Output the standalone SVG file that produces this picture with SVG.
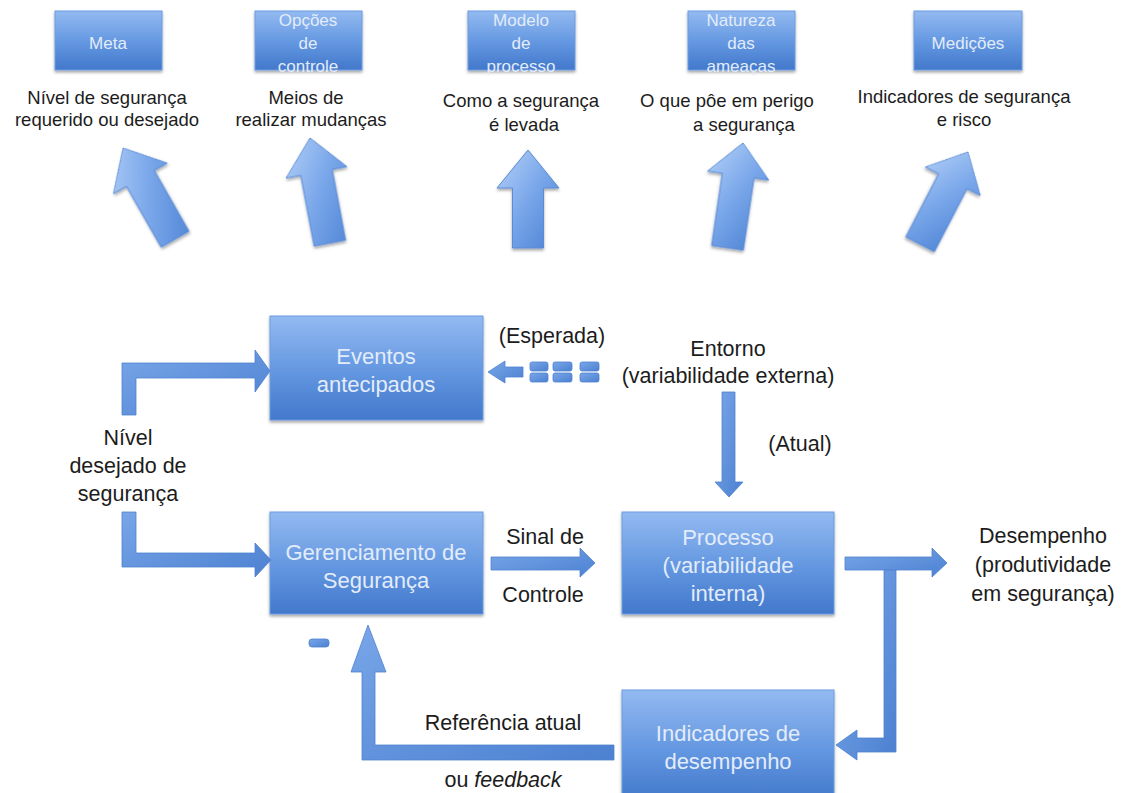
<svg xmlns="http://www.w3.org/2000/svg" width="1126" height="793" viewBox="0 0 1126 793">
<defs>
<linearGradient id="boxG" x1="0" y1="0" x2="0" y2="1">
<stop offset="0" stop-color="#93baf1"/>
<stop offset="0.55" stop-color="#6296e0"/>
<stop offset="1" stop-color="#4278cb"/>
</linearGradient>
<linearGradient id="bigA" x1="0" y1="0" x2="1" y2="1">
<stop offset="0" stop-color="#b6d2f8"/>
<stop offset="0.5" stop-color="#7aa7ea"/>
<stop offset="1" stop-color="#4a80d2"/>
</linearGradient>
<linearGradient id="conG" x1="0" y1="0" x2="1" y2="1">
<stop offset="0" stop-color="#79a6e8"/>
<stop offset="1" stop-color="#4c81d1"/>
</linearGradient>
<filter id="sh" x="-10%" y="-10%" width="120%" height="130%">
<feDropShadow dx="0" dy="2" stdDeviation="1.8" flood-color="#000" flood-opacity="0.35"/>
</filter>
<style>
.box{fill:url(#boxG);stroke:#6d9be0;stroke-width:1;filter:url(#sh)}
.bt{font-family:"Liberation Sans",Arial,sans-serif;font-size:17px;fill:#e3ecfa;text-anchor:middle}
.mt{font-family:"Liberation Sans",Arial,sans-serif;font-size:22px;fill:#e3ecfa;text-anchor:middle}
.dt{font-family:"Liberation Sans",Arial,sans-serif;font-size:18.5px;fill:#1c1c1c;text-anchor:middle}
.lt{font-family:"Liberation Sans",Arial,sans-serif;font-size:21.5px;fill:#1c1c1c;text-anchor:middle}
.big{fill:url(#bigA);stroke:#5a8bd6;stroke-width:1;filter:url(#sh)}
.con{fill:url(#conG);stroke:#4f82d0;stroke-width:0.8}
</style>
</defs>
<rect width="1126" height="793" fill="#fff"/>

<!-- top row -->
<g id="meta">
<rect class="box" x="55" y="11" width="107" height="59"/>
<text class="bt" x="108" y="49">Meta</text>
<text class="dt" x="107" y="104">Nível de segurança</text>
<text class="dt" x="107" y="126">requerido ou desejado</text>
</g>
<g id="opcoes">
<rect class="box" x="255" y="11" width="107" height="59"/>
<text class="bt" x="308" y="26">Opções</text>
<text class="bt" x="308" y="49">de</text>
<text class="bt" x="308" y="72">controle</text>
<text class="dt" x="306" y="104">Meios de</text>
<text class="dt" x="311" y="126">realizar mudanças</text>
</g>
<g id="modelo">
<rect class="box" x="468" y="11" width="107" height="59"/>
<text class="bt" x="521" y="26">Modelo</text>
<text class="bt" x="521" y="49">de</text>
<text class="bt" x="521" y="72">processo</text>
<text class="dt" x="521" y="107">Como a segurança</text>
<text class="dt" x="524" y="131">é levada</text>
</g>
<g id="natureza">
<rect class="box" x="688" y="11" width="107" height="59"/>
<text class="bt" x="741" y="26">Natureza</text>
<text class="bt" x="741" y="49">das</text>
<text class="bt" x="741" y="72">ameaças</text>
<text class="dt" x="727" y="107">O que pôe em perigo</text>
<text class="dt" x="744" y="131">a segurança</text>
</g>
<g id="medicoes">
<rect class="box" x="914" y="11" width="108" height="59"/>
<text class="bt" x="968" y="49">Medições</text>
<text class="dt" x="964" y="103">Indicadores de segurança</text>
<text class="dt" x="964" y="126">e risco</text>
</g>

<!-- big arrows -->
<g id="big-arrows">
<path class="big" transform="translate(123,148) rotate(-29.7)" d="M0,0 L31,35 L16,35 L16,105 L-16,105 L-16,35 L-31,35 Z"/>
<path class="big" transform="translate(310,138) rotate(-10.7)" d="M0,0 L31,35 L16,35 L16,107 L-16,107 L-16,35 L-31,35 Z"/>
<path class="big" transform="translate(528,150)" d="M0,0 L31,38 L15.5,38 L15.5,98 L-15.5,98 L-15.5,38 L-31,38 Z"/>
<path class="big" transform="translate(743,143) rotate(8.4)" d="M0,0 L31,33 L16,33 L16,106 L-16,106 L-16,33 L-31,33 Z"/>
<path class="big" transform="translate(968,152) rotate(27.4)" d="M0,0 L31,33 L16,33 L16,104 L-16,104 L-16,33 L-31,33 Z"/>
</g>

<!-- main nodes -->
<g id="eventos">
<rect class="box" x="270" y="316" width="213" height="104"/>
<text class="mt" x="376" y="364">Eventos</text>
<text class="mt" x="376" y="392">antecipados</text>
</g>
<g id="gerenciamento">
<rect class="box" x="270" y="512" width="213" height="102"/>
<text class="mt" x="376" y="560">Gerenciamento de</text>
<text class="mt" x="376" y="588">Segurança</text>
</g>
<g id="processo">
<rect class="box" x="622" y="512" width="212" height="102"/>
<text class="mt" x="728" y="545">Processo</text>
<text class="mt" x="728" y="573">(variabilidade</text>
<text class="mt" x="728" y="601">interna)</text>
</g>
<g id="indicadores">
<rect class="box" x="622" y="690" width="212" height="112"/>
<text class="mt" x="728" y="741">Indicadores de</text>
<text class="mt" x="728" y="769">desempenho</text>
</g>

<!-- labels -->
<g id="labels">
<text class="lt" x="552" y="343">(Esperada)</text>
<text class="lt" x="728" y="356">Entorno</text>
<text class="lt" x="728" y="383">(variabilidade externa)</text>
<text class="lt" x="800" y="451">(Atual)</text>
<text class="lt" x="128" y="445">Nível</text>
<text class="lt" x="128" y="473">desejado de</text>
<text class="lt" x="128" y="501">segurança</text>
<text class="lt" x="545" y="544">Sinal de</text>
<text class="lt" x="543" y="602">Controle</text>
<text class="lt" x="1043" y="543">Desempenho</text>
<text class="lt" x="1043" y="572">(produtividade</text>
<text class="lt" x="1043" y="601">em segurança)</text>
<text class="lt" x="503" y="730">Referência atual</text>
<text class="lt" x="503" y="787">ou <tspan font-style="italic">feedback</tspan></text>
</g>

<!-- connectors -->
<g id="connectors">
<path class="con" d="M122,415 L122,363 L255,363 L255,350 L270,371 L255,392 L255,378 L136,378 L136,415 Z"/>
<path class="con" d="M122,512 L136,512 L136,553 L255,553 L255,543 L271,560 L255,577 L255,567 L122,567 Z"/>
<path class="con" d="M488,372 L505,361 L505,367 L523,367 L523,377 L505,377 L505,383 Z"/>
<rect class="con" x="530" y="362" width="18" height="9" rx="2"/>
<rect class="con" x="530" y="373" width="18" height="9" rx="2"/>
<rect class="con" x="553" y="362" width="19" height="9" rx="2"/>
<rect class="con" x="553" y="373" width="19" height="9" rx="2"/>
<rect class="con" x="580" y="362" width="19" height="9" rx="2"/>
<rect class="con" x="580" y="373" width="19" height="9" rx="2"/>
<path class="con" d="M722,392 L735,392 L735,482 L743,482 L729,497 L715,482 L722,482 Z"/>
<path class="con" d="M491,557 L580,557 L580,548 L595,563 L580,577 L580,570 L491,570 Z"/>
<path class="con" d="M845,557 L932,557 L932,548 L947,563 L932,577 L932,570 L845,570 Z"/>
<path class="con" d="M884,570 L896,570 L896,752 L857,752 L857,760 L836,745 L857,730 L857,738 L884,738 Z"/>
<path class="con" d="M614,745 L614,760 L362,760 L362,672 L351,672 L368,625 L386,672 L375,672 L375,745 Z"/>
<rect class="con" x="309" y="639" width="20" height="8" rx="3"/>
</g>
</svg>
